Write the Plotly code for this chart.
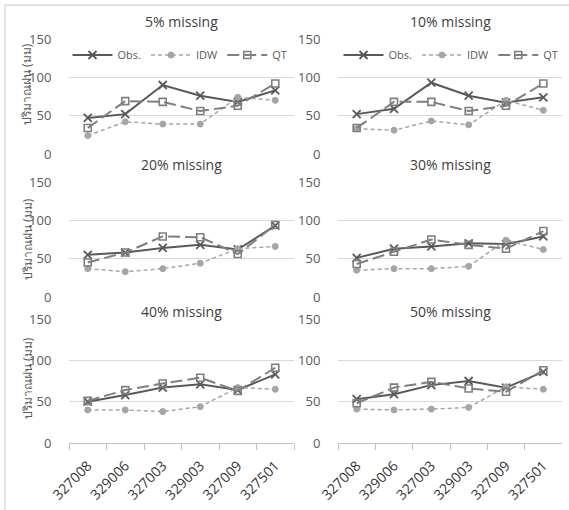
import plotly.graph_objects as go

# Rain-gauge stations on the category axis
stations = ["327008", "329006", "327003", "329003", "327009", "327501"]
panel_titles = ["5% missing", "10% missing", "20% missing",
                "30% missing", "40% missing", "50% missing"]
y_title = "ปริมาณฝน (มม)"

# Rainfall (mm) per station for each missing-data scenario
obs_05 = [47, 52, 90, 76, 68, 83]
idw_05 = [24, 42, 39, 39, 74, 70]
qt_05 = [34, 69, 68, 56, 63, 92]

obs_10 = [52, 59, 93, 76, 67, 74]
idw_10 = [33, 31, 43, 38, 70, 57]
qt_10 = [34, 68, 68, 56, 63, 92]

obs_20 = [55, 58, 64, 68, 62, 93]
idw_20 = [37, 33, 37, 44, 63, 66]
qt_20 = [45, 58, 79, 78, 56, 94]

obs_30 = [51, 63, 66, 70, 69, 79]
idw_30 = [35, 37, 37, 40, 74, 62]
qt_30 = [43, 59, 75, 68, 63, 86]

obs_40 = [50, 58, 67, 71, 64, 83]
idw_40 = [40, 40, 38, 44, 67, 65]
qt_40 = [51, 64, 72, 79, 63, 91]

obs_50 = [53, 59, 70, 75, 67, 86]
idw_50 = [41, 40, 41, 43, 68, 65]
qt_50 = [48, 67, 74, 66, 62, 88]

panels = [
    (obs_05, idw_05, qt_05),
    (obs_10, idw_10, qt_10),
    (obs_20, idw_20, qt_20),
    (obs_30, idw_30, qt_30),
    (obs_40, idw_40, qt_40),
    (obs_50, idw_50, qt_50),
]

W, H = 569, 510
FONT = "Open Sans, Noto Sans, DejaVu Sans, sans-serif"
TXT = "#595959"
GRID = "#d9d9d9"


def fx(px):
    return px / W


def fy(px):
    return 1 - px / H


col_px = [(69, 294), (338, 562)]
row_px = [(39, 154), (182, 297), (319, 443)]
title_y_px = [22, 165, 311]
ytitle_y_px = [84, 239, 378]

fig = go.Figure()

series_style = [
    dict(name="Obs.", color="#595959", dash="solid", width=2,
         marker=dict(symbol="x-thin", size=8, color="#595959",
                     line=dict(width=1.8, color="#595959"))),
    dict(name="IDW", color="#a5a5a5", dash="4px,3px", width=1.5,
         marker=dict(symbol="circle", size=6, color="#a5a5a5",
                     line=dict(width=1, color="#a5a5a5"))),
    dict(name="QT", color="#7f7f7f", dash="12px,5px", width=2,
         marker=dict(symbol="square-open", size=7, color="#7f7f7f",
                     line=dict(width=1.6, color="#7f7f7f"))),
]

for i, series in enumerate(panels):
    r, c = divmod(i, 2)
    sfx = "" if i == 0 else str(i + 1)
    for vals, st in zip(series, series_style):
        fig.add_trace(go.Scatter(
            x=stations, y=vals, mode="lines+markers", name=st["name"],
            line=dict(color=st["color"], dash=st["dash"], width=st["width"]),
            marker=st["marker"],
            xaxis="x" + sfx, yaxis="y" + sfx,
            showlegend=(i < 2),
            legend="legend2" if i == 1 else "legend",
        ))

    bottom = (r == 2)
    x0, x1 = col_px[c]
    ytop, ybot = row_px[r]
    fig.layout["xaxis" + sfx] = dict(
        domain=[fx(x0), fx(x1)], anchor="y" + sfx, automargin=False,
        type="category", range=[-0.5, 5.5],
        showgrid=False, zeroline=False,
        showline=bottom, linecolor="#bfbfbf", linewidth=1,
        ticks="outside" if bottom else "", tickson="boundaries",
        ticklen=6, tickcolor="#bfbfbf",
        ticklabelstandoff=8,
        showticklabels=bottom, tickangle=-45,
        tickfont=dict(family=FONT, size=14, color="#333333"),
    )
    # transparent ticks push the value labels away from the plot area
    fig.layout["yaxis" + sfx] = dict(
        domain=[fy(ybot), fy(ytop)], anchor="x" + sfx, automargin=False,
        range=[0, 150], tickvals=[0, 50, 100, 150],
        showgrid=True, gridcolor=GRID, gridwidth=1,
        zeroline=False, showline=False,
        ticks="outside", ticklen=14, tickcolor="rgba(0,0,0,0)",
        tickfont=dict(family=FONT, size=13, color=TXT),
    )
    fig.add_annotation(
        text=panel_titles[i], xref="paper", yref="paper",
        x=fx((x0 + x1) / 2), y=fy(title_y_px[r]),
        xanchor="center", yanchor="middle", showarrow=False,
        font=dict(family=FONT, size=14, color="#404040"),
    )
    if c == 0:
        fig.add_annotation(
            text=y_title, xref="paper", yref="paper",
            x=fx(27), y=fy(ytitle_y_px[r]), textangle=-90,
            xanchor="center", yanchor="middle", showarrow=False,
            font=dict(family=FONT, size=12, color=TXT),
        )

legend_common = dict(
    orientation="h", yanchor="middle", xanchor="center",
    y=fy(55), bgcolor="rgba(0,0,0,0)", itemwidth=40,
    font=dict(family=FONT, size=11, color=TXT),
    tracegroupgap=0, itemclick=False,
)
fig.update_layout(
    width=W, height=H,
    margin=dict(l=0, r=0, t=0, b=0, autoexpand=False),
    paper_bgcolor="white", plot_bgcolor="white",
    font=dict(family=FONT, color=TXT),
    legend=dict(x=fx(180), **legend_common),
    legend2=dict(x=fx(451), **legend_common),
    shapes=[
        dict(type="line", xref="paper", yref="paper",
             x0=fx(5), x1=1.0, y0=fy(5), y1=fy(5),
             line=dict(color="#c8c8c8", width=1)),
        dict(type="line", xref="paper", yref="paper",
             x0=fx(5), x1=fx(5), y0=fy(5), y1=0.0,
             line=dict(color="#c8c8c8", width=1)),
    ],
)

fig.write_html("out.html")
